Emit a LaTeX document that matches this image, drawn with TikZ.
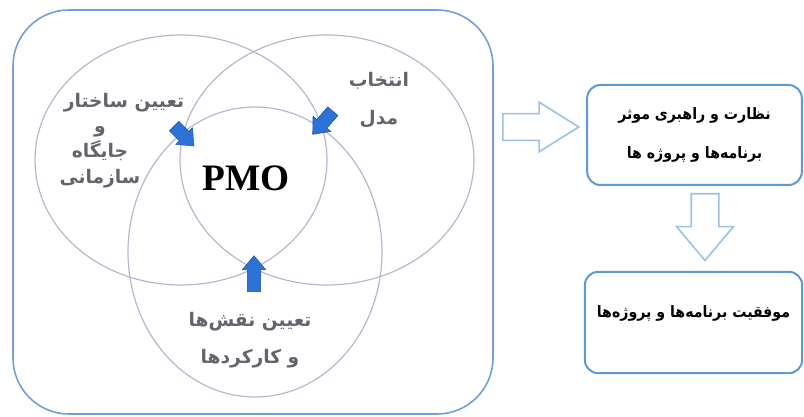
\documentclass[tikz,border=0pt]{standalone}
\usepackage{fontspec}
\setmainfont{Liberation Serif}
\newfontfamily\farsi[Script=Arabic]{DejaVu Sans}
\newfontfamily\farsinarrow[Script=Arabic]{DejaVu Sans Condensed}
\usetikzlibrary{shapes.arrows,positioning}
\TeXXeTstate=1
\definecolor{frameblue}{RGB}{111,160,216}
\definecolor{venngray}{RGB}{178,186,204}
\definecolor{textgray}{RGB}{100,100,108}
\definecolor{pointerblue}{RGB}{45,115,215}
\definecolor{pointeredge}{RGB}{30,80,165}
\definecolor{arrowblue}{RGB}{156,195,229}
\definecolor{boxblue}{RGB}{91,155,213}

\begin{document}
\begin{tikzpicture}[x=0.75pt,y=-0.75pt,
    venn/.style={draw=venngray,line width=0.9pt},
    venntext/.style={text=textgray,align=center},
    pointer/.style={single arrow,fill=pointerblue,draw=pointeredge,line width=0.4pt,
        inner xsep=0pt,inner ysep=4.8pt,single arrow head extend=3.8pt,
        single arrow tip angle=80,anchor=tail},
    bigarrow/.style={single arrow,draw=arrowblue,line width=1.2pt,fill=white,
        inner xsep=0pt,anchor=tail},
    result/.style={draw=boxblue,line width=1.5pt,rounded corners=10pt,align=center,
        font=\farsinarrow\bfseries\fontsize{11.8}{29}\selectfont}]
    \useasboundingbox (0,0) rectangle (804,417);

    % Frame and the three sets
    \draw[frameblue,line width=1.2pt,rounded corners=42pt] (13,10) rectangle (493,414);
    \draw[venn] (181,160) ellipse [x radius=146, y radius=125];
    \draw[venn] (327,160) ellipse [x radius=147, y radius=125];
    \draw[venn] (255,252) ellipse [x radius=127, y radius=145];

    % Centre
    \node[font=\bfseries\fontsize{28}{30}\selectfont] (pmo) at (246,178) {PMO};

    % Set labels
    \node[venntext,font=\farsi\bfseries\fontsize{14}{16}\selectfont] (structure) at (124,103)
        {\beginR تعیین ساختار\endR};
    \node[venntext,font=\farsi\bfseries\fontsize{14}{19}\selectfont] (position) at (100,157)
        {\beginR و\endR\\\beginR جایگاه\endR\\\beginR سازمانی\endR};
    \node[venntext,font=\farsi\bfseries\fontsize{14}{28.5}\selectfont] (model) at (379,100)
        {\beginR انتخاب\endR\\\beginR مدل\endR};
    \node[venntext,font=\farsi\bfseries\fontsize{14}{28}\selectfont] (roles) at (250,340)
        {\beginR تعیین نقش‌ها\endR\\\beginR و کارکردها\endR};

    % Pointers into the centre
    \node[pointer,rotate=-45,minimum height=21pt] (ptleft) at (174,126) {};
    \node[pointer,rotate=-131,minimum height=23pt] (ptright) at (333,111) {};
    \node[pointer,rotate=90,minimum height=27pt] (ptbottom) at (254,292) {};

    % Outcomes
    \node[bigarrow,minimum height=57pt,inner ysep=9.4pt,single arrow head extend=8.6pt,
        single arrow tip angle=64] (toright) at (502,127) {};
    \node[result,minimum width=161pt,minimum height=75pt] (oversight) at (694.5,135)
        {\beginR نظارت و راهبری موثر\endR\\\beginR برنامه‌ها و پروژه ها\endR};
    \node[bigarrow,rotate=-90,minimum height=50pt,inner ysep=9.75pt,
        single arrow head extend=10.9pt,single arrow tip angle=80] (todown) at (705,193) {};
    \node[result,minimum width=163pt,minimum height=76pt,text height=6pt,text depth=12.75pt]
        (success) at (693.5,322.5) {\beginR موفقیت برنامه‌ها و پروژه‌ها\endR};
\end{tikzpicture}
\end{document}
